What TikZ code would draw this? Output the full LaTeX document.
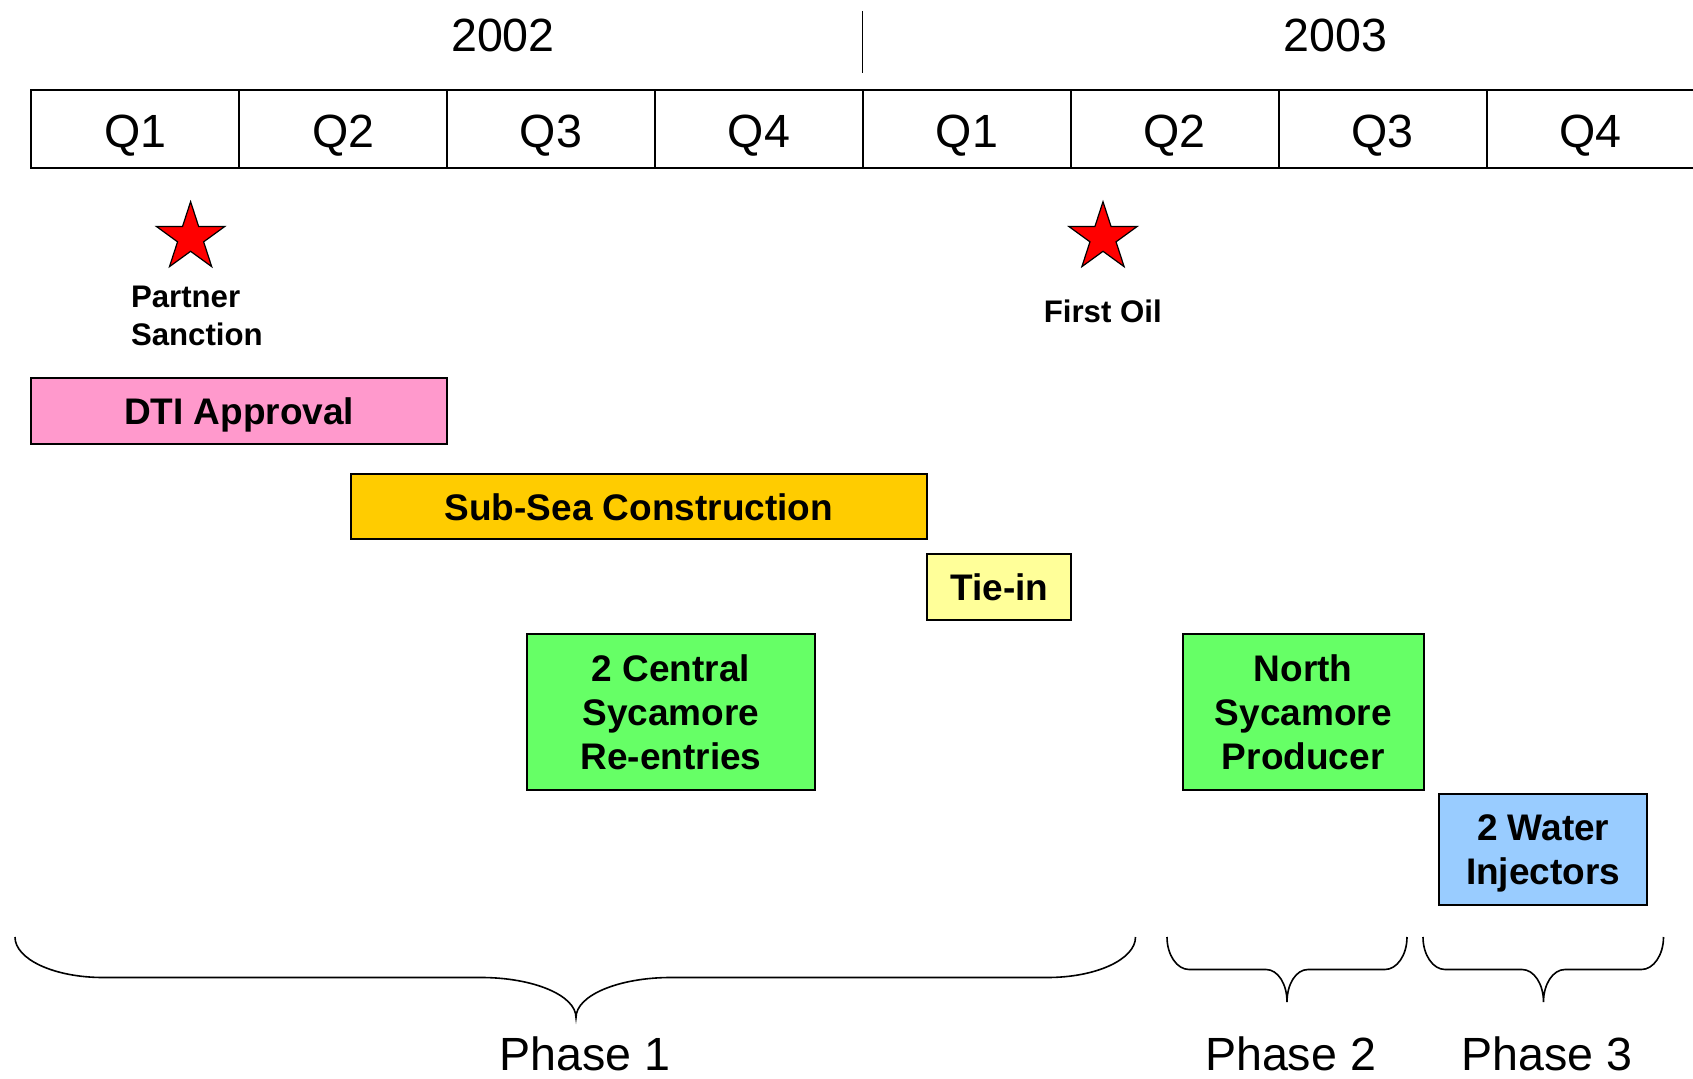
\documentclass[tikz,border=0pt]{standalone}
\usepackage{fontspec}
\setmainfont{Liberation Sans}
\usetikzlibrary{shapes.geometric}
\definecolor{dtipink}{HTML}{FF99CC}
\definecolor{seaorange}{HTML}{FFCC00}
\definecolor{tieyellow}{HTML}{FFFF99}
\definecolor{wellgreen}{HTML}{66FF66}
\definecolor{waterblue}{HTML}{99CCFF}
\begin{document}
\begin{tikzpicture}[x=0.5pt,y=-0.5pt,
  qcell/.style={draw, line width=1pt, minimum width=103.95pt, minimum height=39.4pt, inner sep=0pt, text height=19pt, text depth=0pt, font=\fontsize{23.3}{28}\selectfont},
  biglbl/.style={inner sep=0pt, anchor=base, font=\fontsize{23.3}{28}\selectfont},
  smalllbl/.style={inner sep=0pt, font=\bfseries\fontsize{15.6}{19}\selectfont},
  starmark/.style={shape=star, star points=5, star point ratio=2.618, minimum size=35.9pt, inner sep=0pt, draw, line width=0.6pt, fill=red},
  taskbox/.style={draw, line width=1pt, inner sep=0pt, align=center, font=\bfseries\fontsize{18.5}{22}\selectfont},
  bracestyle/.style={draw, line width=0.8pt}]
\useasboundingbox (0,0) rectangle (1693,1079);
% years
\node[biglbl] (y2002) at (503,51.7) {2002};
\node[biglbl] (y2003) at (1335.6,51.7) {2003};
\coordinate (ydtop) at (862.7,10.8);
\coordinate (ydbot) at (862.7,73.4);
\draw[line width=0.75pt] (ydtop) -- (ydbot);
% quarters
\node[qcell] (q1a) at (135.25,129) {Q1};
\node[qcell] (q2a) at (343.15,129) {Q2};
\node[qcell] (q3a) at (551.05,129) {Q3};
\node[qcell] (q4a) at (758.95,129) {Q4};
\node[qcell] (q1b) at (966.85,129) {Q1};
\node[qcell] (q2b) at (1174.75,129) {Q2};
\node[qcell] (q3b) at (1382.65,129) {Q3};
\node[qcell] (q4b) at (1590.55,129) {Q4};
% milestones
\node[starmark] (star1) at (190.6,237.6) {};
\node[starmark] (star2) at (1103,237.6) {};
\node[smalllbl, anchor=base west] (partner) at (130.6,307.5) {\begin{tabular}[t]{@{}l@{}}Partner\\Sanction\end{tabular}};
\node[smalllbl, anchor=base] (firstoil) at (1102.8,322.7) {First Oil};
% tasks
\node[taskbox, fill=dtipink, text depth=0pt, minimum width=207.85pt, minimum height=32.95pt] (dti) at (239.15,410.85) {DTI Approval};
\node[taskbox, fill=seaorange, minimum width=287.7pt, minimum height=32.6pt] (subsea) at (638.9,506.8) {Sub-Sea Construction};
\node[taskbox, fill=tieyellow, minimum width=72.1pt, minimum height=33pt] (tiein) at (999.2,587) {Tie-in};
\node[taskbox, fill=wellgreen, minimum width=144.2pt, minimum height=77.9pt] (central) at (671,712) {2 Central\\Sycamore\\Re-entries};
\node[taskbox, fill=wellgreen, minimum width=120.4pt, minimum height=77.9pt] (north) at (1303.2,712) {North\\Sycamore\\Producer};
\node[taskbox, fill=waterblue, text depth=0pt, minimum width=104.2pt, minimum height=55.3pt] (water) at (1543.2,849.6) {2 Water\\Injectors};
% braces
\draw[bracestyle] (15,937) .. controls (15,959.4) and (54.4,977.5) .. (103,977.5) -- (481,977.5)
  .. controls (533.4,977.5) and (576,995.4) .. (576,1017.5)
  .. controls (576,995.4) and (618.6,977.5) .. (671,977.5) -- (1047.5,977.5)
  .. controls (1096,977.5) and (1135.5,959.4) .. (1135.5,937);
\draw[bracestyle] (1167,937) .. controls (1167,955) and (1177,969.5) .. (1189,969.5) -- (1266,969.5)
  .. controls (1278,969.5) and (1287,984) .. (1287,1002)
  .. controls (1287,984) and (1296,969.5) .. (1308,969.5) -- (1385,969.5)
  .. controls (1397,969.5) and (1407,955) .. (1407,937);
\draw[bracestyle] (1423,937) .. controls (1423,955) and (1433,969.5) .. (1445,969.5) -- (1522,969.5)
  .. controls (1534,969.5) and (1543.5,984) .. (1543.5,1002)
  .. controls (1543.5,984) and (1553,969.5) .. (1565,969.5) -- (1641.5,969.5)
  .. controls (1653.5,969.5) and (1663.5,955) .. (1663.5,937);
% phases
\node[biglbl] (ph1) at (585,1070) {Phase 1};
\node[biglbl] (ph2) at (1290.5,1070) {Phase 2};
\node[biglbl] (ph3) at (1547,1070) {Phase 3};
\end{tikzpicture}
\end{document}
